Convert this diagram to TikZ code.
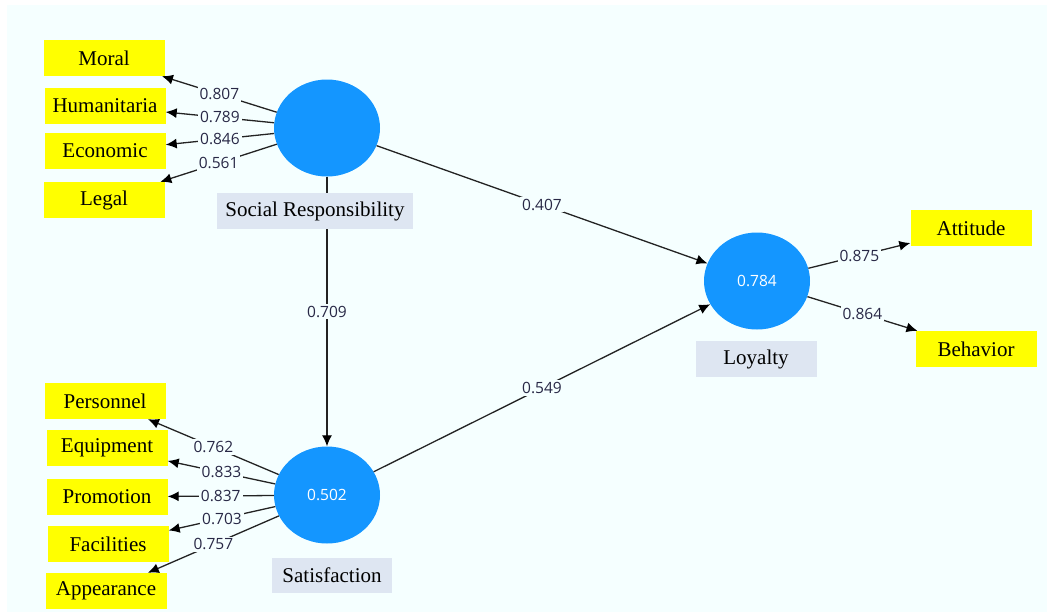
\documentclass[tikz,border=0pt]{standalone}
\usepackage{fontspec}
\setmainfont{Liberation Serif}
\newfontfamily\numfont{Open Sans}
\usetikzlibrary{arrows.meta,shapes.geometric}
\definecolor{bg}{RGB}{245,255,255}
\definecolor{circ}{RGB}{20,150,255}
\definecolor{lblbox}{RGB}{222,230,242}
\definecolor{ind}{RGB}{255,255,0}
\definecolor{edgecol}{RGB}{35,35,35}
\definecolor{numcol}{RGB}{40,40,70}
\tikzset{
  latent/.style={ellipse, fill=circ, minimum width=106pt, minimum height=97pt, inner sep=0pt,
    text=white, font=\numfont\fontsize{15.5}{17}\selectfont},
  indbox/.style={rectangle, fill=ind, minimum width=121pt, minimum height=36pt, inner sep=0pt,
    font=\fontsize{21}{23}\selectfont},
  namebox/.style={rectangle, fill=lblbox, minimum height=36pt, inner sep=0pt,
    font=\fontsize{21}{23}\selectfont},
  conn/.style={draw=edgecol, line width=1.3pt, -{Latex[length=11pt,width=10pt,color=black]}},
  wt/.style={fill=bg, inner sep=2pt, text=numcol, font=\numfont\fontsize{15.5}{17}\selectfont}
}
\begin{document}
\begin{tikzpicture}[x=1pt,y=-1pt]
\useasboundingbox (0,0) rectangle (1052,614);
\fill[bg] (7,5) rectangle (1047,612);
% latent variables
\node[latent] (sr) at (327,128) {};
\node[latent] (sat) at (327,495) {0.502};
\node[latent] (loy) at (757,281) {0.784};
% indicators
\node[indbox] (moral) at (104,58) {Moral};
\node[indbox] (hum) at (105,106) {Humanitaria};
\node[indbox] (eco) at (105,151) {Economic};
\node[indbox] (legal) at (104,200) {Legal};
\node[indbox] (pers) at (105,401) {Personnel};
\node[indbox] (equip) at (107,448) {Equipment};
\node[indbox] (promo) at (107,497) {Promotion};
\node[indbox] (fac) at (108,544) {Facilities};
\node[indbox] (app) at (106,591) {Appearance};
\node[indbox] (att) at (971,228) {Attitude};
\node[indbox] (beh) at (976,349) {Behavior};
% outer loadings
\draw[conn] (sr) -- node[wt] {0.807} (moral);
\draw[conn] (sr) -- node[wt] {0.789} (hum);
\draw[conn] (sr) -- node[wt] {0.846} (eco);
\draw[conn] (sr) -- node[wt] {0.561} (legal);
\draw[conn] (sat) -- node[wt] {0.762} (pers);
\draw[conn] (sat) -- node[wt] {0.833} (equip);
\draw[conn] (sat) -- node[wt] {0.837} (promo);
\draw[conn] (sat) -- node[wt] {0.703} (fac);
\draw[conn] (sat) -- node[wt] {0.757} (app);
\draw[conn] (loy) -- node[wt] {0.875} (att);
\draw[conn] (loy) -- node[wt] {0.864} (beh);
% structural paths
\draw[conn] (sr) -- node[wt] {0.407} (loy);
\draw[conn] (sr) -- node[wt] {0.709} (sat);
\draw[conn] (sat) -- node[wt] {0.549} (loy);
% names
\node[namebox, minimum width=196pt] (srname) at (315,211) {Social Responsibility};
\node[namebox, minimum width=120pt, minimum height=35pt] (satname) at (332,575) {Satisfaction};
\node[namebox, minimum width=121pt] (loyname) at (756,359) {Loyalty};
\end{tikzpicture}
\end{document}
